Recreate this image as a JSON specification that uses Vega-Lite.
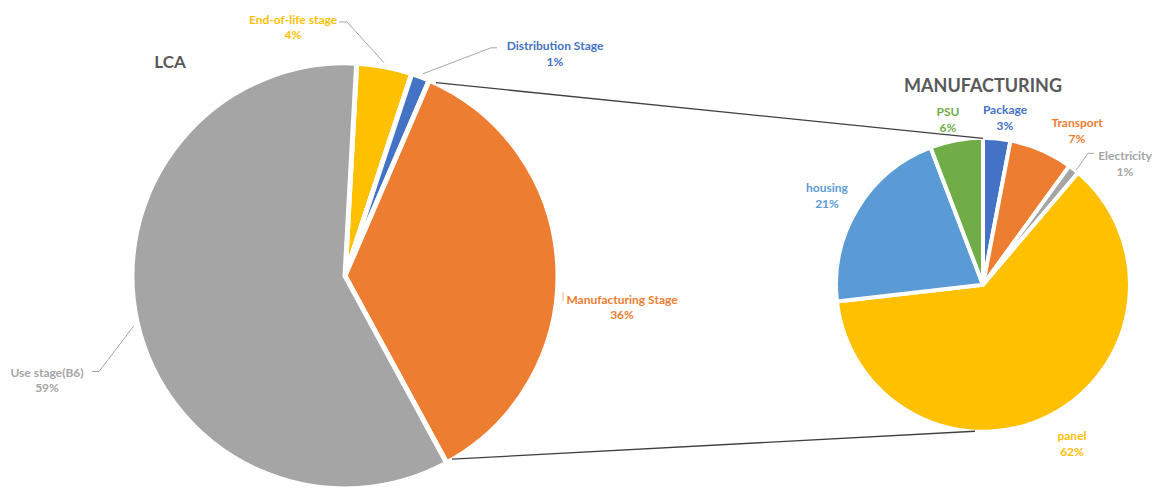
{
  "$schema": "https://vega.github.io/schema/vega-lite/v6.json",
  "width": 1153,
  "height": 491,
  "padding": 0,
  "autosize": {"type": "fit", "contains": "padding"},
  "background": "white",
  "config": {"view": {"stroke": null}, "axis": {"disable": true}},
  "data": {"values": [{}]},
  "datasets": {
    "lca": [
      {"name": "End-of-life stage", "share": 4.2, "rank": 1},
      {"name": "Distribution Stage", "share": 1.4, "rank": 2},
      {"name": "Manufacturing Stage", "share": 35.6, "rank": 3},
      {"name": "Use stage(B6)", "share": 58.8, "rank": 4}
    ],
    "mfg": [
      {"name": "Package", "share": 3.0, "rank": 1},
      {"name": "Transport", "share": 7.0, "rank": 2},
      {"name": "Electricity", "share": 1.2, "rank": 3},
      {"name": "panel", "share": 62.0, "rank": 4},
      {"name": "housing", "share": 21.0, "rank": 5},
      {"name": "PSU", "share": 5.8, "rank": 6}
    ]
  },
  "resolve": {"scale": {"theta": "independent"}},
  "layer": [
    {
      "data": {"name": "lca"},
      "mark": {"type": "arc", "outerRadius": 213, "stroke": "white", "strokeWidth": 5, "strokeJoin": "round"},
      "encoding": {
        "x": {"datum": 345, "type": "quantitative", "scale": {"domain": [0, 1153], "nice": false, "zero": false}, "axis": null},
        "y": {"datum": 277, "type": "quantitative", "scale": {"domain": [0, 491], "nice": false, "zero": false, "reverse": true}, "axis": null},
        "theta": {"field": "share", "type": "quantitative", "stack": true, "scale": {"range": [0.055, 6.338]}},
        "order": {"field": "rank", "type": "quantitative"},
        "color": {
          "field": "name", "type": "nominal", "legend": null,
          "scale": {
            "domain": ["End-of-life stage", "Distribution Stage", "Manufacturing Stage", "Use stage(B6)", "Package", "Transport", "Electricity", "panel", "housing", "PSU"],
            "range": ["#FFC000", "#4472C4", "#ED7D31", "#A5A5A5", "#4472C4", "#ED7D31", "#A5A5A5", "#FFC000", "#5B9BD5", "#70AD47"]
          }
        }
      }
    },
    {
      "data": {"name": "mfg"},
      "mark": {"type": "arc", "outerRadius": 147, "stroke": "white", "strokeWidth": 4, "strokeJoin": "round"},
      "encoding": {
        "x": {"datum": 983},
        "y": {"datum": 286},
        "theta": {"field": "share", "type": "quantitative", "stack": true},
        "order": {"field": "rank", "type": "quantitative"},
        "color": {"field": "name", "type": "nominal", "legend": null}
      }
    },
    {"mark": {"type": "rule", "color": "#404040", "strokeWidth": 1.3}, "encoding": {"x": {"datum": 436}, "y": {"datum": 83}, "x2": {"datum": 983}, "y2": {"datum": 139}}},
    {"mark": {"type": "rule", "color": "#404040", "strokeWidth": 1.3}, "encoding": {"x": {"datum": 452}, "y": {"datum": 461}, "x2": {"datum": 975}, "y2": {"datum": 433}}},
    {"mark": {"type": "rule", "color": "#A6A6A6", "strokeWidth": 1}, "encoding": {"x": {"datum": 339}, "y": {"datum": 22}, "x2": {"datum": 347}, "y2": {"datum": 22}}},
    {"mark": {"type": "rule", "color": "#A6A6A6", "strokeWidth": 1}, "encoding": {"x": {"datum": 347}, "y": {"datum": 22}, "x2": {"datum": 384}, "y2": {"datum": 63}}},
    {"mark": {"type": "rule", "color": "#A6A6A6", "strokeWidth": 1}, "encoding": {"x": {"datum": 497}, "y": {"datum": 48}, "x2": {"datum": 491}, "y2": {"datum": 48}}},
    {"mark": {"type": "rule", "color": "#A6A6A6", "strokeWidth": 1}, "encoding": {"x": {"datum": 491}, "y": {"datum": 48}, "x2": {"datum": 423}, "y2": {"datum": 74}}},
    {"mark": {"type": "rule", "color": "#A6A6A6", "strokeWidth": 1}, "encoding": {"x": {"datum": 92}, "y": {"datum": 373}, "x2": {"datum": 99}, "y2": {"datum": 373}}},
    {"mark": {"type": "rule", "color": "#A6A6A6", "strokeWidth": 1}, "encoding": {"x": {"datum": 99}, "y": {"datum": 373}, "x2": {"datum": 134}, "y2": {"datum": 327}}},
    {"mark": {"type": "rule", "color": "#A6A6A6", "strokeWidth": 1}, "encoding": {"x": {"datum": 1094}, "y": {"datum": 154}, "x2": {"datum": 1088}, "y2": {"datum": 154}}},
    {"mark": {"type": "rule", "color": "#A6A6A6", "strokeWidth": 1}, "encoding": {"x": {"datum": 1088}, "y": {"datum": 154}, "x2": {"datum": 1076}, "y2": {"datum": 171}}},
    {"mark": {"type": "rule", "color": "#F4B183", "strokeWidth": 1}, "encoding": {"x": {"datum": 563}, "y": {"datum": 293}, "x2": {"datum": 563}, "y2": {"datum": 302}}},
    {"mark": {"type": "text", "font": "Lato", "fontWeight": "bold", "fontSize": 17, "color": "#595959", "align": "center", "baseline": "middle"}, "encoding": {"x": {"datum": 170}, "y": {"datum": 63}, "text": {"value": "LCA"}}},
    {"mark": {"type": "text", "font": "Lato", "fontWeight": "bold", "fontSize": 18, "color": "#595959", "align": "center", "baseline": "middle"}, "encoding": {"x": {"datum": 983}, "y": {"datum": 87}, "text": {"value": "MANUFACTURING"}}},
    {"mark": {"type": "text", "font": "Lato", "fontWeight": "bold", "fontSize": 12, "lineHeight": 15, "lineBreak": "\n", "color": "#FFC000", "align": "center", "baseline": "middle"}, "encoding": {"x": {"datum": 293}, "y": {"datum": 20}, "text": {"value": "End-of-life stage\n4%"}}},
    {"mark": {"type": "text", "font": "Lato", "fontWeight": "bold", "fontSize": 12, "lineHeight": 16, "lineBreak": "\n", "color": "#4472C4", "align": "center", "baseline": "middle"}, "encoding": {"x": {"datum": 555}, "y": {"datum": 46.5}, "text": {"value": "Distribution Stage\n1%"}}},
    {"mark": {"type": "text", "font": "Lato", "fontWeight": "bold", "fontSize": 12, "lineHeight": 15, "lineBreak": "\n", "color": "#A5A5A5", "align": "center", "baseline": "middle"}, "encoding": {"x": {"datum": 47}, "y": {"datum": 374.5}, "text": {"value": "Use stage(B6)\n59%"}}},
    {"mark": {"type": "text", "font": "Lato", "fontWeight": "bold", "fontSize": 12, "lineHeight": 15, "lineBreak": "\n", "color": "#ED7D31", "align": "center", "baseline": "middle"}, "encoding": {"x": {"datum": 622}, "y": {"datum": 301.5}, "text": {"value": "Manufacturing Stage\n36%"}}},
    {"mark": {"type": "text", "font": "Lato", "fontWeight": "bold", "fontSize": 12, "lineHeight": 16, "lineBreak": "\n", "color": "#70AD47", "align": "center", "baseline": "middle"}, "encoding": {"x": {"datum": 948}, "y": {"datum": 112.5}, "text": {"value": "PSU\n6%"}}},
    {"mark": {"type": "text", "font": "Lato", "fontWeight": "bold", "fontSize": 12, "lineHeight": 16, "lineBreak": "\n", "color": "#4472C4", "align": "center", "baseline": "middle"}, "encoding": {"x": {"datum": 1005}, "y": {"datum": 110.5}, "text": {"value": "Package\n3%"}}},
    {"mark": {"type": "text", "font": "Lato", "fontWeight": "bold", "fontSize": 12, "lineHeight": 16, "lineBreak": "\n", "color": "#ED7D31", "align": "center", "baseline": "middle"}, "encoding": {"x": {"datum": 1077}, "y": {"datum": 124}, "text": {"value": "Transport\n7%"}}},
    {"mark": {"type": "text", "font": "Lato", "fontWeight": "bold", "fontSize": 12, "lineHeight": 16, "lineBreak": "\n", "color": "#A5A5A5", "align": "center", "baseline": "middle"}, "encoding": {"x": {"datum": 1125}, "y": {"datum": 156.5}, "text": {"value": "Electricity\n1%"}}},
    {"mark": {"type": "text", "font": "Lato", "fontWeight": "bold", "fontSize": 12, "lineHeight": 16, "lineBreak": "\n", "color": "#5B9BD5", "align": "center", "baseline": "middle"}, "encoding": {"x": {"datum": 827}, "y": {"datum": 189}, "text": {"value": "housing\n21%"}}},
    {"mark": {"type": "text", "font": "Lato", "fontWeight": "bold", "fontSize": 12, "lineHeight": 16, "lineBreak": "\n", "color": "#FFC000", "align": "center", "baseline": "middle"}, "encoding": {"x": {"datum": 1072}, "y": {"datum": 437.5}, "text": {"value": "panel\n62%"}}}
  ]
}
